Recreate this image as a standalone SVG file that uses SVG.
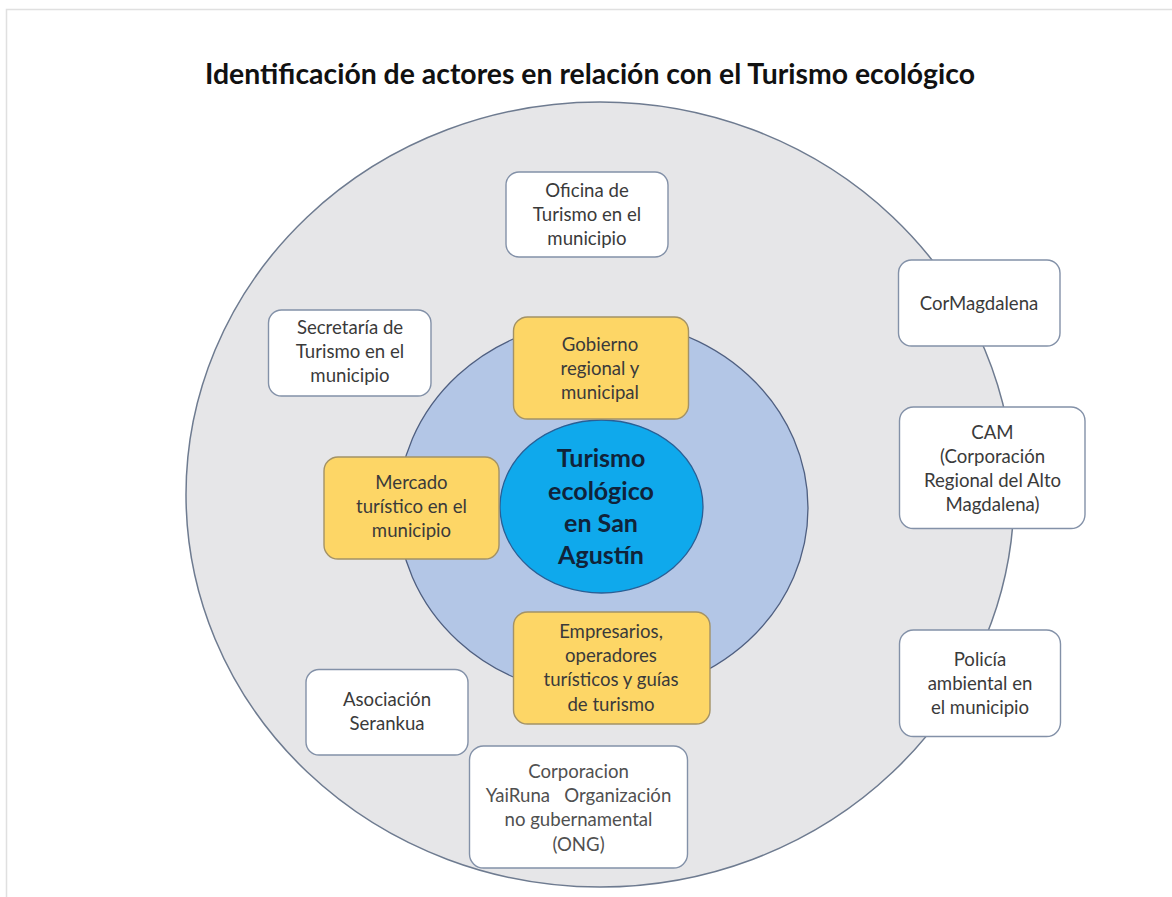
<svg xmlns="http://www.w3.org/2000/svg" width="1172" height="897" viewBox="0 0 1172 897">
<style>
.t{font-family:Lato,"Liberation Sans",sans-serif;font-size:18.6px;fill:#3a3a3a;text-anchor:middle}
.w{fill:#ffffff;stroke:#8391a8;stroke-width:1.4}
.y{fill:#fdd666;stroke:#a39266;stroke-width:1.4}
.c{font-family:Lato,"Liberation Sans",sans-serif;font-size:25px;font-weight:bold;fill:#10233a;text-anchor:middle}
</style>
<rect width="1172" height="897" fill="#ffffff"/>
<path d="M6.5 897 V9.5 H1172" fill="none" stroke="#e0e0e0" stroke-width="1.5"/>
<text x="205" y="84" font-family="Lato,'Liberation Sans',sans-serif" font-size="28" font-weight="bold" fill="#111111" textLength="770" lengthAdjust="spacingAndGlyphs">Identificación de actores en relación con el Turismo ecológico</text>
<g id="rings">
<ellipse cx="600" cy="494.5" rx="414" ry="392.5" fill="#e6e6e8" stroke="#6e7b90" stroke-width="1.5"/>
<ellipse cx="603" cy="508" rx="205" ry="188" fill="#b3c6e6" stroke="#4f5f80" stroke-width="1.3"/>
</g>
<g id="connectors"/>
<g id="center">
<ellipse cx="601.5" cy="506.5" rx="101.5" ry="86.5" fill="#0fa9ec" stroke="#2a5f95" stroke-width="1.3"/>
<text class="c" x="601" y="467">Turismo</text>
<text class="c" x="601" y="500">ecológico</text>
<text class="c" x="601" y="532">en San</text>
<text class="c" x="601" y="564">Agustín</text>
</g>
<g id="oficina">
<rect class="w" x="506" y="172" width="162" height="85" rx="13"/>
<text class="t" x="587" y="197">Oficina de</text>
<text class="t" x="587" y="221">Turismo en el</text>
<text class="t" x="587" y="245">municipio</text>
</g>
<g id="secretaria">
<rect class="w" x="268.5" y="310" width="162.5" height="86" rx="13"/>
<text class="t" x="350" y="334">Secretaría de</text>
<text class="t" x="350" y="358">Turismo en el</text>
<text class="t" x="350" y="382">municipio</text>
</g>
<g id="gobierno">
<rect class="y" x="513.5" y="317" width="175" height="102" rx="14"/>
<text class="t" x="600" y="351">Gobierno</text>
<text class="t" x="600" y="375">regional y</text>
<text class="t" x="600" y="399">municipal</text>
</g>
<g id="mercado">
<rect class="y" x="324" y="457" width="175" height="102" rx="14"/>
<text class="t" x="411.5" y="489">Mercado</text>
<text class="t" x="411.5" y="513">turístico en el</text>
<text class="t" x="411.5" y="537">municipio</text>
</g>
<g id="empresarios">
<rect class="y" x="513.5" y="612" width="196.5" height="112" rx="14"/>
<text class="t" x="611" y="638">Empresarios,</text>
<text class="t" x="611" y="662">operadores</text>
<text class="t" x="611" y="686">turísticos y guías</text>
<text class="t" x="611" y="711">de turismo</text>
</g>
<g id="serankua">
<rect class="w" x="306" y="669.5" width="162" height="85.5" rx="13"/>
<text class="t" x="387" y="706">Asociación</text>
<text class="t" x="387" y="730">Serankua</text>
</g>
<g id="yairuna">
<rect class="w" x="469.5" y="746" width="218" height="122" rx="14"/>
<text class="t" x="578.5" y="778" style="fill:#505050">Corporacion</text>
<text class="t" x="578.5" y="802" style="fill:#505050" xml:space="preserve">YaiRuna   Organización</text>
<text class="t" x="578.5" y="826" style="fill:#505050">no gubernamental</text>
<text class="t" x="578.5" y="851" style="fill:#505050">(ONG)</text>
</g>
<g id="cormagdalena">
<rect class="w" x="898.5" y="260" width="161.5" height="86" rx="13"/>
<text class="t" x="979" y="310">CorMagdalena</text>
</g>
<g id="cam">
<rect class="w" x="899.5" y="407" width="185.5" height="121.5" rx="14"/>
<text class="t" x="992.5" y="439">CAM</text>
<text class="t" x="992.5" y="463">(Corporación</text>
<text class="t" x="992.5" y="487">Regional del Alto</text>
<text class="t" x="992.5" y="511">Magdalena)</text>
</g>
<g id="policia">
<rect class="w" x="899.5" y="630" width="161" height="106.5" rx="14"/>
<text class="t" x="980" y="666">Policía</text>
<text class="t" x="980" y="690">ambiental en</text>
<text class="t" x="980" y="714">el municipio</text>
</g>
</svg>
